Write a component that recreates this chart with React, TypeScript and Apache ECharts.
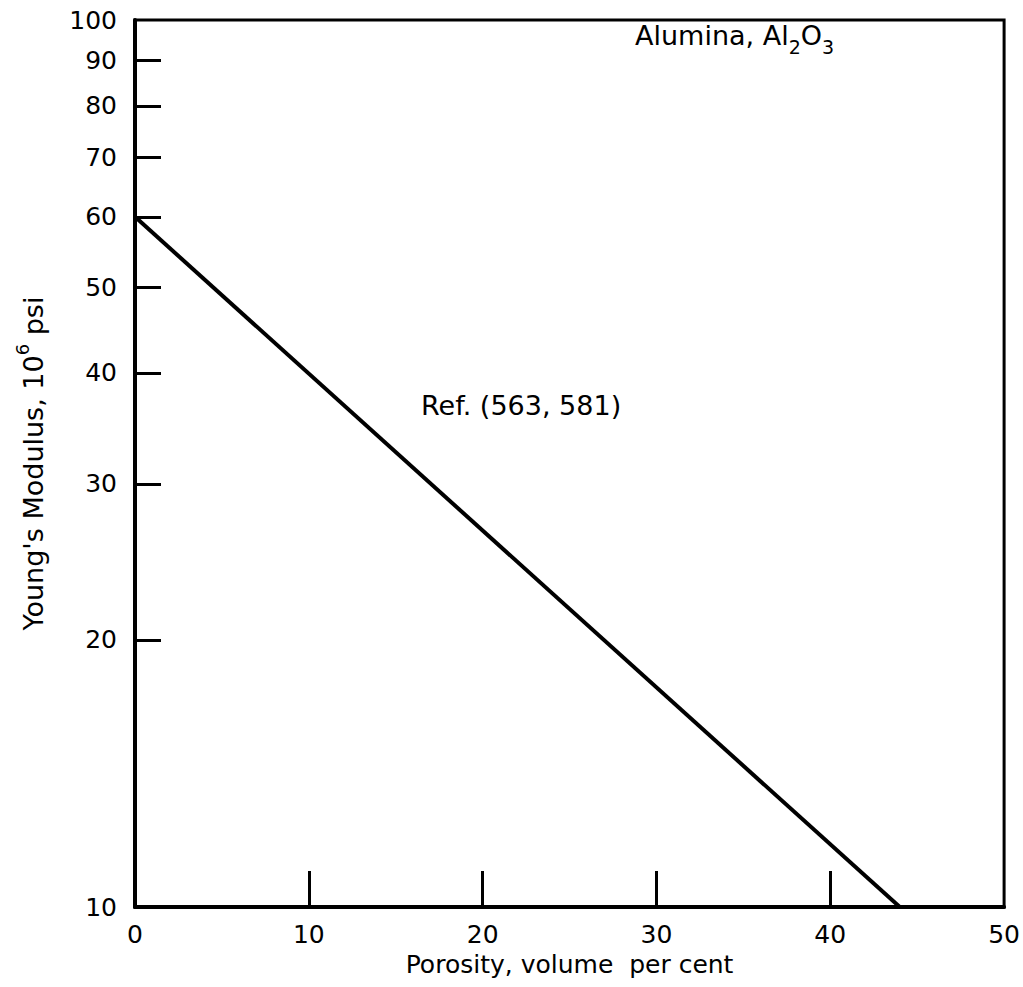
import React, { useEffect, useRef } from "react";
import * as echarts from "echarts";

const porosity = [0, 44];
const modulus = [60, 10];
const xLabels = [0, 10, 20, 30, 40, 50];
const xTicks = [10, 20, 30, 40];
const yLabels = [10, 20, 30, 40, 50, 60, 70, 80, 90, 100];
const yTicks = [20, 30, 40, 50, 60, 70, 80, 90];

const FONT = "DejaVu Sans";

export default function App() {
  const ref = useRef<HTMLDivElement>(null);
  useEffect(() => {
    const chart = echarts.init(ref.current!, null, { renderer: "svg" });
    chart.setOption({
      animation: false,
      backgroundColor: "#fff",
      grid: {
        left: 135,
        right: 12,
        top: 20,
        bottom: 80,
        show: true,
        borderColor: "#000",
        borderWidth: 3,
        containLabel: false,
      },
      xAxis: {
        type: "value",
        min: 0,
        max: 50,
        interval: 10,
        name: "Porosity, volume  per cent",
        nameLocation: "middle",
        nameGap: 38,
        nameTextStyle: { fontFamily: FONT, fontSize: 25, color: "#000" },
        axisLine: { show: true, lineStyle: { color: "#000", width: 4 } },
        axisTick: {
          show: true,
          inside: true,
          length: 36,
          customValues: xTicks,
          lineStyle: { color: "#000", width: 3 },
        },
        axisLabel: {
          customValues: xLabels,
          margin: 15,
          fontFamily: FONT,
          fontSize: 25,
          color: "#000",
        },
        splitLine: { show: false },
      },
      yAxis: {
        type: "log",
        logBase: 10,
        min: 10,
        max: 100,
        name: "{a|Young's Modulus, 10}{s|6}{a| psi}",
        nameLocation: "middle",
        nameGap: 88,
        nameRotate: 90,
        nameTextStyle: {
          fontFamily: FONT,
          color: "#000",
          rich: {
            a: { fontFamily: FONT, fontSize: 27, lineHeight: 34, verticalAlign: "bottom", color: "#000" },
            s: { fontFamily: FONT, fontSize: 18, lineHeight: 34, verticalAlign: "top", color: "#000" },
          },
        },
        axisLine: { show: true, lineStyle: { color: "#000", width: 4 } },
        axisTick: {
          show: true,
          inside: true,
          length: 26,
          customValues: yTicks,
          lineStyle: { color: "#000", width: 3 },
        },
        axisLabel: {
          customValues: yLabels,
          margin: 18,
          fontFamily: FONT,
          fontSize: 25,
          color: "#000",
          formatter: (v: number) => String(Math.round(v)),
        },
        splitLine: { show: false },
        minorTick: { show: false },
        minorSplitLine: { show: false },
      },
      graphic: [
        {
          type: "text",
          left: 635,
          top: 22,
          style: {
            text: "{a|Alumina, Al}{s|2}{a|O}{s|3}",
            fill: "#000",
            rich: {
              a: { fontFamily: FONT, fontSize: 27, lineHeight: 34, verticalAlign: "top", fill: "#000" },
              s: { fontFamily: FONT, fontSize: 19, lineHeight: 34, verticalAlign: "bottom", fill: "#000" },
            },
          },
        },
        {
          type: "text",
          left: 421,
          top: 392,
          style: {
            text: "Ref. (563, 581)",
            fontFamily: FONT,
            fontSize: 27,
            fill: "#000",
          },
        },
      ],
      series: [
        {
          type: "line",
          data: porosity.map((p, i) => [p, modulus[i]]),
          symbol: "none",
          lineStyle: { color: "#000", width: 4 },
        },
      ],
    });
    return () => chart.dispose();
  }, []);
  return (
    <div
      ref={ref}
      style={{ position: "fixed", left: 0, top: 0, width: 1023, height: 987 }}
    />
  );
}
